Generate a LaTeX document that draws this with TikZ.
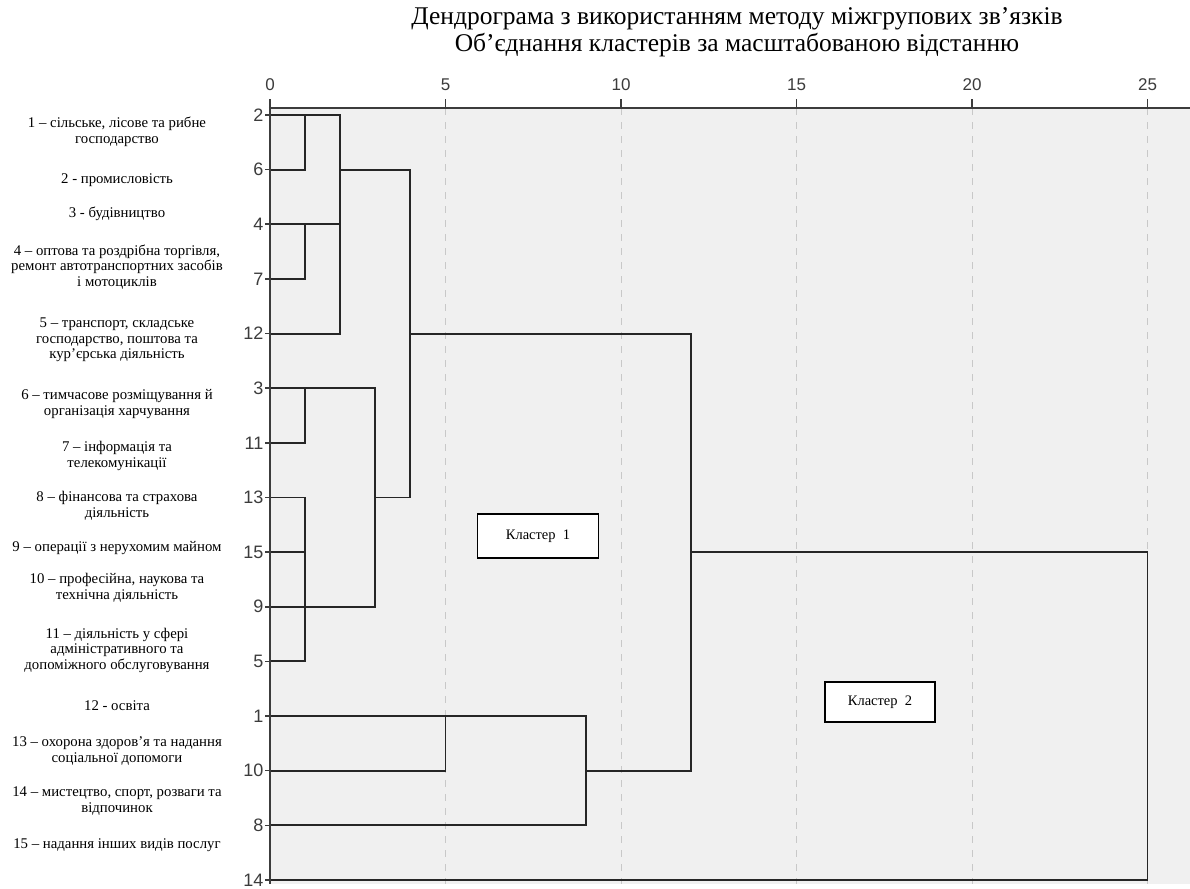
\documentclass[tikz,border=0pt]{standalone}
\usepackage{fontspec}
\setmainfont{Liberation Serif}
\setsansfont{Liberation Sans}
\usetikzlibrary{positioning,calc}

\definecolor{plotbg}{HTML}{F0F0F0}
\definecolor{gridc}{HTML}{C8C8C8}
\definecolor{axisc}{HTML}{3C3C3C}

\tikzset{
  dendro/.style={line width=1.9pt,draw=black!85,line cap=rect},
  axisline/.style={line width=2.4pt,draw=axisc},
  gridline/.style={line width=1pt,draw=gridc,dash pattern=on 7pt off 7pt},
  rowlab/.style={font=\sffamily\fontsize{18}{18}\selectfont,text=axisc,anchor=east,inner sep=0pt,xshift=-1pt},
  ticklab/.style={font=\sffamily\fontsize{17}{17}\selectfont,text=axisc,anchor=base,inner sep=0pt},
  sectorlab/.style={font=\fontsize{14.8}{15.5}\selectfont,align=center,inner sep=0pt},
  clusterbox/.style={draw,fill=white,line width=1.6pt,font=\fontsize{14.5}{14.5}\selectfont},
}

\begin{document}
\begin{tikzpicture}[x=1pt,y=-1pt]
\useasboundingbox (0,0) rectangle (1190,888);
\fill[white] (0,0) rectangle (1190,888);
\fill[plotbg] (270,108) rectangle (1190,884);

% title
\node[font=\fontsize{25.5}{27}\selectfont,align=center] (title) at (737,32)
  {Дендрограма з використанням методу міжгрупових зв’язків\\Об’єднання кластерів за масштабованою відстанню};

% sectors
\node[sectorlab] (s1) at (117,132) {1 – сільське, лісове та рибне\\господарство};
\node[sectorlab] (s2) at (117,180) {2 - промисловість};
\node[sectorlab] (s3) at (117,214) {3 - будівництво};
\node[sectorlab] (s4) at (117,267) {4 – оптова та роздрібна торгівля,\\ремонт автотранспортних засобів\\і мотоциклів};
\node[sectorlab] (s5) at (117,340) {5 – транспорт, складське\\господарство, поштова та\\кур’єрська діяльність};
\node[sectorlab] (s6) at (117,404) {6 – тимчасове розміщування й\\організація харчування};
\node[sectorlab] (s7) at (117,456) {7 – інформація та\\телекомунікації};
\node[sectorlab] (s8) at (117,506) {8 – фінансова та страхова\\діяльність};
\node[sectorlab] (s9) at (117,548) {9 – операції з нерухомим майном};
\node[sectorlab] (s10) at (117,588) {10 – професійна, наукова та\\технічна діяльність};
\node[sectorlab] (s11) at (117,650) {11 – діяльність у сфері\\адміністративного та\\допоміжного обслуговування};
\node[sectorlab] (s12) at (117,706) {12 - освіта};
\node[sectorlab] (s13) at (117,751) {13 – охорона здоров’я та надання\\соціальної допомоги};
\node[sectorlab] (s14) at (117,801) {14 – мистецтво, спорт, розваги та\\відпочинок};
\node[sectorlab] (s15) at (117,845) {15 – надання інших видів послуг};

\begin{scope}[shift={(270,115)},x=35.1pt,y=-54.64pt]
\coordinate (axtop) at (0,-0.128);
\coordinate (axbot) at (0,14.07);

% grid and axis
\foreach \d in {5,10,15,20,25}
  \draw[gridline] (\d,-0.128) -- (\d,14.07);
\draw[axisline] (-0.03,-0.128) -- (26.2,-0.128);
\foreach \d in {0,5,10,15,20,25}{
  \draw[axisline,line width=1.8pt] (\d,-0.128) -- (\d,-0.29);
  \node[ticklab] (t\d) at (\d,-0.44) {\d};
}

% leaves
\foreach \lab [count=\i from 0] in {2,6,4,7,12,3,11,13,15,9,5,1,10,8,14}{
  \coordinate (r\lab) at (0,\i);
  \draw[axisline,line width=1.6pt] (r\lab) -- ++(-0.14,0) node[rowlab] (n\lab) {\lab};
}
\foreach \d in {1,2,3,4,5,9,12,25}
  \coordinate (d\d) at (\d,0);

% cluster 1
\draw[dendro] (r2) -- (r2 -| d2);
\draw[dendro] (r6) -| (r2 -| d1);
\draw[dendro] (r4) -- (r4 -| d2);
\draw[dendro] (r7) -| (r4 -| d1);
\draw[dendro] (r12) -| (r2 -| d2);
\draw[dendro] (r6 -| d2) -- (r6 -| d4);
\draw[dendro] (r3) -- (r3 -| d3);
\draw[dendro] (r11) -| (r3 -| d1);
\draw[dendro] (r13) -- (r13 -| d1) |- (r5);
\draw[dendro] (r15) -- (r15 -| d1);
\draw[dendro] (r9) -| (r3 -| d3);
\draw[dendro] (r13 -| d3) -- (r13 -| d4);
\draw[dendro] (r6 -| d4) -- (r13 -| d4);
\draw[dendro] (r12 -| d4) -- (r12 -| d12);

% cluster 2
\draw[dendro] (r1) -- (r1 -| d9);
\draw[dendro] (r10) -| (r1 -| d5);
\draw[dendro] (r8) -| (r1 -| d9);
\draw[dendro] (r10 -| d9) -- (r10 -| d12);
\draw[dendro] (r12 -| d12) -- (r10 -| d12);
\draw[dendro] (r15 -| d12) -- (r15 -| d25);
\draw[dendro] (r14) -| (r15 -| d25);

\draw[axisline] (axtop) -- (axbot);
\end{scope}

\node[clusterbox,minimum width=121pt,minimum height=44pt] (cl1) at (538,536) {Кластер\ \ 1};
\node[clusterbox,minimum width=110pt,minimum height=40pt] (cl2) at (880,702) {Кластер\ \ 2};
\end{tikzpicture}
\end{document}
